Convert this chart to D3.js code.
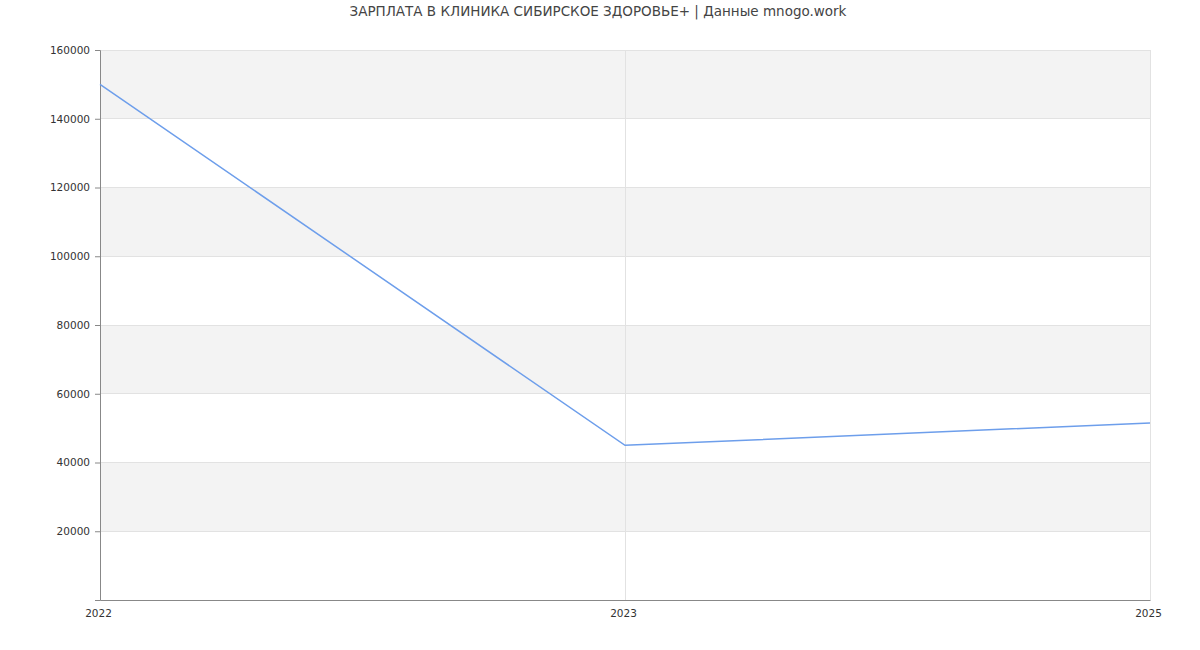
<!DOCTYPE html>
<html><head><meta charset="utf-8">
<script src="https://cdn.jsdelivr.net/npm/d3@7"></script>
<style>body{margin:0;background:#fff;font-family:"DejaVu Sans",sans-serif;}</style>
</head><body><svg id="c" width="1200" height="650"></svg>
<script>
const title = "ЗАРПЛАТА В КЛИНИКА СИБИРСКОЕ ЗДОРОВЬЕ+ | Данные mnogo.work";
const years = ["2022", "2023", "2025"];
const salaries = [150000, 45000, 51500];
const yTicks = [20000, 40000, 60000, 80000, 100000, 120000, 140000, 160000];
const bands = [[140000,160000],[100000,120000],[60000,80000],[20000,40000]];

const svg = d3.select("#c");
const m = {l:100, r:50, t:50, b:50};
const W = 1200, H = 650;
const x = d3.scalePoint().domain(years).range([m.l, W - m.r]);
const y = d3.scaleLinear().domain([0, 160000]).range([H - m.b, m.t]);

svg.append("text").attr("x", 598).attr("y", 16).attr("text-anchor","middle")
  .attr("font-size", 13.5).attr("fill", "#444").text(title);

svg.selectAll("rect.band").data(bands).enter().append("rect")
  .attr("x", m.l).attr("width", W - m.r - m.l)
  .attr("y", d => y(d[1])).attr("height", d => y(d[0]) - y(d[1]))
  .attr("fill", "#f3f3f3");

svg.selectAll("line.hg").data(yTicks).enter().append("line")
  .attr("x1", m.l).attr("x2", W - m.r).attr("y1", d => y(d)).attr("y2", d => y(d))
  .attr("stroke", "#e2e2e2").attr("stroke-width", 1).attr("shape-rendering","crispEdges");
svg.selectAll("line.vg").data(years.slice(1)).enter().append("line")
  .attr("x1", d => x(d)).attr("x2", d => x(d)).attr("y1", m.t).attr("y2", H - m.b)
  .attr("stroke", "#e2e2e2").attr("stroke-width", 1).attr("shape-rendering","crispEdges");

const ya = svg.append("g").attr("transform", `translate(${m.l},0)`)
  .call(d3.axisLeft(y).tickValues([0].concat(yTicks)).tickFormat(d => d === 0 ? "" : d).tickSize(5).tickPadding(5));
ya.select(".domain").attr("stroke", "#888");
ya.selectAll(".tick line").attr("stroke", "#888");
ya.selectAll("text").attr("font-size", 10.5).attr("fill", "#333").attr("font-family", "DejaVu Sans");

const xa = svg.append("g").attr("transform", `translate(0,${H - m.b})`)
  .call(d3.axisBottom(x).tickSize(0).tickPadding(10));
xa.select(".domain").attr("stroke", "#888");
xa.selectAll("text").attr("font-size", 10.5).attr("fill", "#333").attr("font-family", "DejaVu Sans").attr("dx", -2);

const line = d3.line().x((d,i) => x(years[i])).y(d => y(d));
svg.append("path").datum(salaries).attr("d", line)
  .attr("fill", "none").attr("stroke", "#6d9eeb").attr("stroke-width", 1.5);
</script></body></html>
